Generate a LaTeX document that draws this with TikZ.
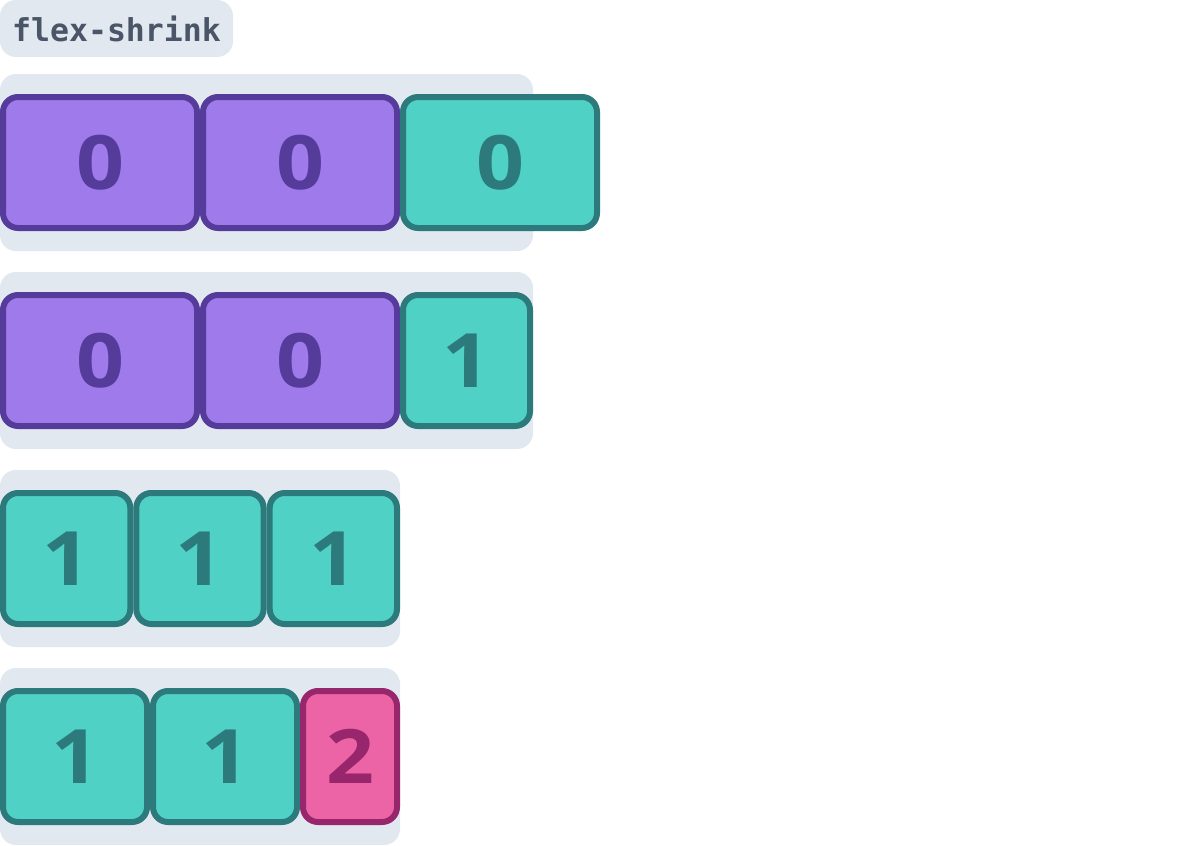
\documentclass[tikz,border=0pt]{standalone}
\usepackage{fontspec}
\newfontfamily\digitfont{Open Sans}[FakeStretch=1.12]
\newfontfamily\codefont{DejaVu Sans Mono}
\definecolor{bgc}{HTML}{E2E8F0}
\definecolor{titlec}{HTML}{4A5568}
\definecolor{pfill}{HTML}{9F7AEA}
\definecolor{pdraw}{HTML}{553C9A}
\definecolor{tfill}{HTML}{4FD1C5}
\definecolor{tdraw}{HTML}{2C7A7B}
\definecolor{kfill}{HTML}{ED64A6}
\definecolor{kdraw}{HTML}{97266D}
\tikzset{
  rowbg/.style={fill=bgc, rounded corners=16pt, inner sep=0pt, outer sep=0pt, anchor=north west, minimum height=177pt},
  cell/.style={draw, line width=6pt, rounded corners=15pt, inner sep=0pt, outer sep=0pt, anchor=north west,
    minimum height=131pt, font=\digitfont\bfseries\fontsize{75}{75}\selectfont},
  purplecell/.style={cell, fill=pfill, draw=pdraw, text=pdraw},
  tealcell/.style={cell, fill=tfill, draw=tdraw, text=tdraw},
  pinkcell/.style={cell, fill=kfill, draw=kdraw, text=kdraw},
}
\begin{document}
\begin{tikzpicture}[x=1pt, y=-1pt]
\useasboundingbox (0,0) rectangle (1200,846);
% title
\node[fill=bgc, rounded corners=16pt, anchor=north west, outer sep=0pt, minimum height=57pt, minimum width=233pt,
  inner xsep=12pt, inner ysep=0pt, text=titlec, font=\codefont\bfseries\fontsize{31.5}{31.5}\selectfont] (title) at (0,0) {flex-shrink};
% row backgrounds
\node[rowbg, minimum width=533pt] (row1) at (0,74) {};
\node[rowbg, minimum width=533pt] (row2) at (0,272) {};
\node[rowbg, minimum width=400pt] (row3) at (0,470) {};
\node[rowbg, minimum width=400pt] (row4) at (0,668) {};
% row 1
\node[purplecell, minimum width=194pt] (a1) at (3,97) {0};
\node[purplecell, minimum width=194pt] (a2) at (203,97) {0};
\node[tealcell, minimum width=194pt] (a3) at (403,97) {0};
% row 2
\node[purplecell, minimum width=194pt] (b1) at (3,295) {0};
\node[purplecell, minimum width=194pt] (b2) at (203,295) {0};
\node[tealcell, minimum width=127pt] (b3) at (403,295) {1};
% row 3
\node[tealcell, minimum width=127.3pt] (c1) at (3,493) {1};
\node[tealcell, minimum width=127.3pt] (c2) at (136.3,493) {1};
\node[tealcell, minimum width=127.3pt] (c3) at (269.7,493) {1};
% row 4
\node[tealcell, minimum width=144pt] (d1) at (3,691) {1};
\node[tealcell, minimum width=144pt] (d2) at (153,691) {1};
\node[pinkcell, minimum width=94pt] (d3) at (303,691) {2};
\end{tikzpicture}
\end{document}
